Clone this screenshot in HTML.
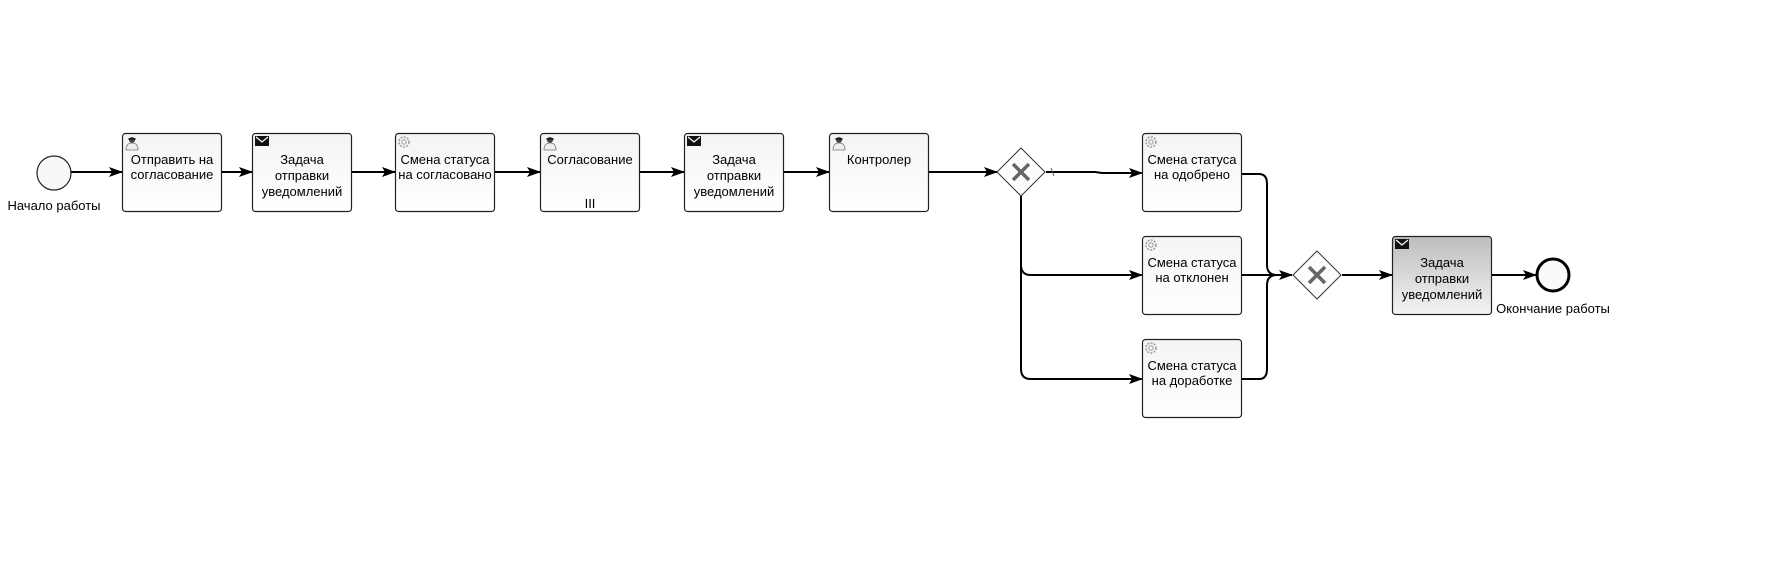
<!DOCTYPE html>
<html><head><meta charset="utf-8"><style>
html,body{margin:0;padding:0;background:#fff;}
svg{display:block;}
text{font-family:"Liberation Sans",Arial,sans-serif;font-size:13px;fill:#000;}
</style></head><body>
<svg width="1769" height="575" viewBox="0 0 1769 575" xmlns="http://www.w3.org/2000/svg">
<defs>
<linearGradient id="g" x1="0" y1="0" x2="0" y2="1"><stop offset="0" stop-color="#f4f4f4"/><stop offset="1" stop-color="#ffffff"/></linearGradient>
<linearGradient id="gd" x1="0" y1="0" x2="0" y2="1"><stop offset="0" stop-color="#bdbdbd"/><stop offset="1" stop-color="#f4f4f4"/></linearGradient>
<marker id="a" markerWidth="14" markerHeight="12" refX="13" refY="6" orient="auto" markerUnits="userSpaceOnUse"><path d="M0,1 L14,6 L0,11 L3,6 Z" fill="#000"/></marker>
<g id="user"><circle cx="8" cy="5" r="3" fill="#444"/><path d="M2,15 Q2,8 8,8 Q14,8 14,15 Z" fill="#eee" stroke="#777" stroke-width="0.8"/><rect x="4.5" y="3" width="7" height="2" fill="#222"/></g>
<g id="mail"><rect x="0" y="0" width="14" height="10" fill="#111"/><path d="M1,1 L7,6 L13,1" fill="none" stroke="#fff" stroke-width="1.2"/></g>
<g id="gear"><circle cx="7" cy="7" r="5" fill="none" stroke="#999" stroke-width="1.5" stroke-dasharray="2 1.3"/><circle cx="7" cy="7" r="2.2" fill="none" stroke="#999" stroke-width="1"/></g>
</defs>
<g fill="none" stroke="#000" stroke-width="2">
<line x1="71" y1="172" x2="122" y2="172" marker-end="url(#a)"/>
<line x1="221" y1="172" x2="252" y2="172" marker-end="url(#a)"/>
<line x1="351" y1="172" x2="395" y2="172" marker-end="url(#a)"/>
<line x1="494" y1="172" x2="540" y2="172" marker-end="url(#a)"/>
<line x1="640" y1="172" x2="684" y2="172" marker-end="url(#a)"/>
<line x1="784" y1="172" x2="829" y2="172" marker-end="url(#a)"/>
<line x1="928" y1="172" x2="997" y2="172" marker-end="url(#a)"/>
<path d="M1046,172 L1095,172 L1102,173 L1142,173" marker-end="url(#a)"/>
<path d="M1021,196 L1021,265 Q1021,275 1031,275 L1142,275" marker-end="url(#a)"/>
<path d="M1021,265 L1021,369 Q1021,379 1031,379 L1142,379" marker-end="url(#a)"/>
<path d="M1241,174 L1259,174 Q1267,174 1267,184 L1267,265 Q1267,275 1277,275" />
<path d="M1241,379 L1259,379 Q1267,379 1267,369 L1267,285 Q1267,275 1277,275"/>
<line x1="1241" y1="275" x2="1292" y2="275" marker-end="url(#a)"/>
<line x1="1342" y1="275" x2="1392" y2="275" marker-end="url(#a)"/>
<line x1="1491" y1="275" x2="1536" y2="275" marker-end="url(#a)"/>
</g>
<line x1="1051" y1="168" x2="1054" y2="176" stroke="#555" stroke-width="1"/>
<circle cx="54" cy="173" r="17" fill="#f8f8f8" stroke="#222" stroke-width="1.2"/>
<text x="54" y="210" text-anchor="middle">Начало работы</text>
<circle cx="1553" cy="275" r="16" fill="#fafafa" stroke="#000" stroke-width="3"/>
<text x="1553" y="313" text-anchor="middle">Окончание работы</text>
<g stroke="#222" stroke-width="1.2">
<rect x="122.5" y="133.5" width="99" height="78" rx="3" fill="url(#g)"/>
<rect x="252.5" y="133.5" width="99" height="78" rx="3" fill="url(#g)"/>
<rect x="395.5" y="133.5" width="99" height="78" rx="3" fill="url(#g)"/>
<rect x="540.5" y="133.5" width="99" height="78" rx="3" fill="url(#g)"/>
<rect x="684.5" y="133.5" width="99" height="78" rx="3" fill="url(#g)"/>
<rect x="829.5" y="133.5" width="99" height="78" rx="3" fill="url(#g)"/>
<rect x="1142.5" y="133.5" width="99" height="78" rx="3" fill="url(#g)"/>
<rect x="1142.5" y="236.5" width="99" height="78" rx="3" fill="url(#g)"/>
<rect x="1142.5" y="339.5" width="99" height="78" rx="3" fill="url(#g)"/>
<rect x="1392.5" y="236.5" width="99" height="78" rx="3" fill="url(#gd)"/>
</g>
<use href="#user" x="124" y="135"/>
<use href="#mail" x="255" y="136"/>
<use href="#gear" x="397" y="135"/>
<use href="#user" x="542" y="135"/>
<use href="#mail" x="687" y="136"/>
<use href="#user" x="831" y="135"/>
<use href="#gear" x="1144" y="135"/>
<use href="#gear" x="1144" y="238"/>
<use href="#gear" x="1144" y="341"/>
<use href="#mail" x="1395" y="239"/>
<g text-anchor="middle">
<text x="172" y="164">Отправить на</text><text x="172" y="179">согласование</text>
<text x="302" y="164">Задача</text><text x="302" y="180">отправки</text><text x="302" y="196">уведомлений</text>
<text x="445" y="164">Смена статуса</text><text x="445" y="179">на согласовано</text>
<text x="590" y="164">Согласование</text><text x="590" y="208" font-size="11">III</text>
<text x="734" y="164">Задача</text><text x="734" y="180">отправки</text><text x="734" y="196">уведомлений</text>
<text x="879" y="164">Контролер</text>
<text x="1192" y="164">Смена статуса</text><text x="1192" y="179">на одобрено</text>
<text x="1192" y="267">Смена статуса</text><text x="1192" y="282">на отклонен</text>
<text x="1192" y="370">Смена статуса</text><text x="1192" y="385">на доработке</text>
<text x="1442" y="267">Задача</text><text x="1442" y="283">отправки</text><text x="1442" y="299">уведомлений</text>
</g>
<g>
<path d="M1021,148 L1045,172 L1021,196 L997,172 Z" fill="#fcfcfc" stroke="#333" stroke-width="1"/>
<path d="M1013,164 L1029,180 M1029,164 L1013,180" stroke="#666" stroke-width="3.5"/>
<path d="M1317,251 L1341,275 L1317,299 L1293,275 Z" fill="#fcfcfc" stroke="#333" stroke-width="1"/>
<path d="M1309,267 L1325,283 M1325,267 L1309,283" stroke="#666" stroke-width="3.5"/>
</g>
</svg>
</body></html>
